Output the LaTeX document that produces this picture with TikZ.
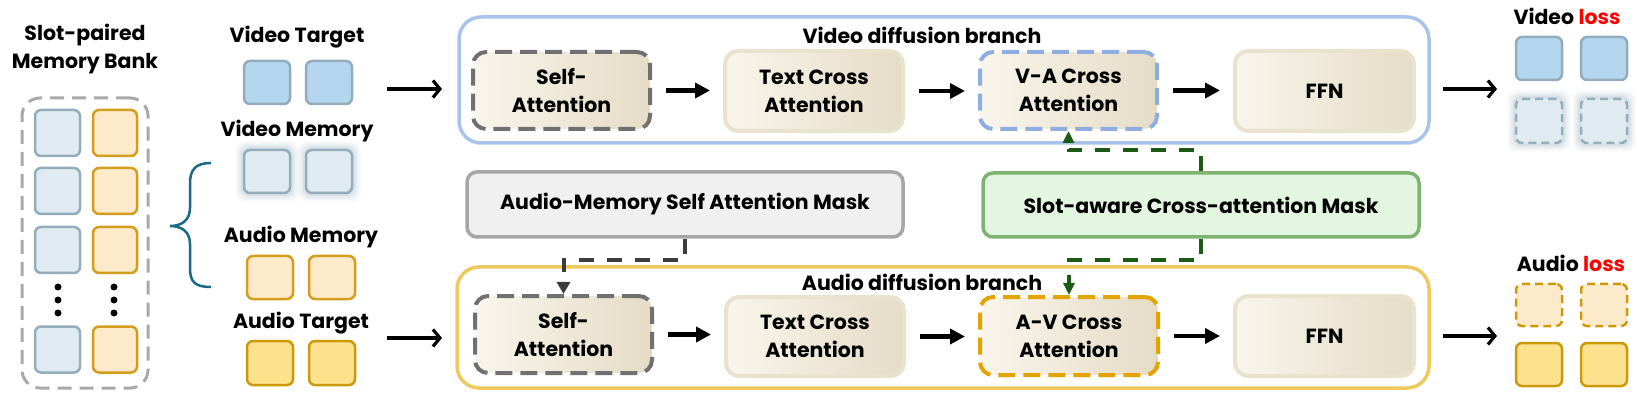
\documentclass[tikz,border=0pt]{standalone}
\usepackage{fontspec}
\setmainfont{Poppins}
\usetikzlibrary{arrows.meta,backgrounds}
\definecolor{vtF}{HTML}{B5D6EF}
\definecolor{vtB}{HTML}{93ACBC}
\definecolor{vmF}{HTML}{DFEBF0}
\definecolor{vmB}{HTML}{93ADBD}
\definecolor{amF}{HTML}{FDEACB}
\definecolor{amB}{HTML}{D49E1C}
\definecolor{atF}{HTML}{FDE28E}
\definecolor{atB}{HTML}{CC9A08}
\definecolor{vbB}{HTML}{A9C4EA}
\definecolor{abB}{HTML}{EEC95E}
\definecolor{vaB}{HTML}{8EADE0}
\definecolor{avB}{HTML}{E3A300}
\definecolor{saB}{HTML}{707070}
\definecolor{bankB}{HTML}{A9A9A9}
\definecolor{gmF}{HTML}{F0F0F0}
\definecolor{gmB}{HTML}{A6A6A6}
\definecolor{smF}{HTML}{E3F6DF}
\definecolor{smB}{HTML}{7DB36F}
\definecolor{grnA}{HTML}{1C5B14}
\definecolor{gryA}{HTML}{3C3C3C}
\definecolor{braceC}{HTML}{1A6A85}
\definecolor{gL}{HTML}{F9F5EC}
\definecolor{gR}{HTML}{E5DCC6}
\definecolor{tcB}{HTML}{E9E2CF}
\definecolor{lossred}{HTML}{FF0000}
\definecolor{glowC}{HTML}{8FA8B8}
\newcommand{\myGlow}[1]{%
  \foreach \g/\o in {2/0.16,4/0.12,6/0.08,8/0.05}{%
    \fill[glowC, opacity=\o, rounded corners=9pt] ([shift={(-\g,\g)}]#1.south west) rectangle ([shift={(\g,-\g)}]#1.north east);}}
\begin{document}
\begin{tikzpicture}[x=1pt,y=-1pt, font=\fontsize{20.5}{28}\selectfont\bfseries,
  lbl/.style={inner sep=0pt, align=center},
  sq/.style={rounded corners=6pt, minimum width=46pt, minimum height=44pt, line width=2.5pt, inner sep=0pt},
  vtsq/.style={sq, draw=vtB, fill=vtF},
  vmsq/.style={sq, draw=vmB, fill=vmF},
  amsq/.style={sq, draw=amB, fill=amF},
  atsq/.style={sq, draw=atB, fill=atF},
  vlsq/.style={sq, draw=vmB, fill=vmF, dash pattern=on 8pt off 5pt},
  alsq/.style={sq, draw=atB, fill=amF, dash pattern=on 8pt off 5pt},
  bankbox/.style={rounded corners=18pt, draw=bankB, line width=3pt, dash pattern=on 14pt off 8pt, inner sep=0pt},
  branch/.style={rounded corners=22pt, line width=3.5pt, inner sep=0pt},
  blk/.style={rounded corners=13pt, inner sep=0pt, align=center, left color=gL, right color=gR},
  sabox/.style={blk, draw=saB, line width=4pt, dash pattern=on 17pt off 8pt},
  tcbox/.style={blk, draw=tcB, line width=4pt},
  vabox/.style={blk, draw=vaB, line width=4pt, dash pattern=on 17pt off 8pt},
  avbox/.style={blk, draw=avB, line width=4pt, dash pattern=on 17pt off 8pt},
  maskbox/.style={rounded corners=10pt, line width=3.5pt, inner sep=0pt},
  flowarrow/.style={line width=4.5pt, -{Triangle[length=15pt,width=15pt]}, shorten <=14pt, shorten >=13pt},
  ioarrow/.style={line width=3.2pt, -{Straight Barb[length=7pt,width=17pt]}},
  grayarrow/.style={gryA, line width=4pt, dash pattern=on 15pt off 13pt, -{Triangle[length=12pt,width=13pt]}},
  greenarrow/.style={grnA, line width=4pt, dash pattern=on 15pt off 13pt, -{Triangle[length=12pt,width=11pt]}},
  dot/.style={circle, fill=black, inner sep=0pt, minimum size=7pt}
]
\useasboundingbox (0,0) rectangle (1650,406);

% ---- memory bank ----
\node[lbl] (bankT) at (85,49) {Slot-paired\\Memory Bank};
\node[bankbox, minimum width=126pt, minimum height=290pt] (bank) at (85,243) {};
\node[vmsq, minimum width=45pt, minimum height=46pt] (b1l) at (57.5,133) {};
\node[amsq, minimum width=44pt, minimum height=46pt] (b1r) at (115,133) {};
\node[vmsq, minimum width=45pt, minimum height=46pt] (b2l) at (57.5,191) {};
\node[amsq, minimum width=44pt, minimum height=46pt] (b2r) at (115,191) {};
\node[vmsq, minimum width=45pt, minimum height=46pt] (b3l) at (57.5,250) {};
\node[amsq, minimum width=44pt, minimum height=46pt] (b3r) at (115,250) {};
\node[vmsq, minimum width=45pt, minimum height=46pt] (b4l) at (57.5,349.5) {};
\node[amsq, minimum width=44pt, minimum height=46pt] (b4r) at (115,349.5) {};
\foreach \yy [count=\i] in {287,300,313}{
  \node[dot] (dl\i) at (58,\yy) {};
  \node[dot] (dr\i) at (114,\yy) {};
}

% ---- brace ----
\draw[braceC, line width=2.5pt] (211,163) .. controls (195,163) and (190,170) .. (190,184) -- (190,208)
  .. controls (190,220) and (182,226) .. (170,226) .. controls (182,226) and (190,232) .. (190,244)
  -- (190,268) .. controls (190,282) and (195,287) .. (211,287);

% ---- inputs ----
\node[lbl] (vtL) at (297,37) {Video Target};
\node[vtsq, minimum height=43pt] (vt1) at (267,82.5) {};
\node[vtsq, minimum height=43pt] (vt2) at (329,82.5) {};
\node[lbl] (vmL) at (297,131) {Video Memory};
\node[vmsq, minimum height=43pt] (vm1) at (267,171.5) {};
\node[vmsq, minimum height=43pt] (vm2) at (329,171.5) {};
\node[lbl] (amL) at (301,237) {Audio Memory};
\node[amsq, minimum height=43pt] (am1) at (270,277.5) {};
\node[amsq, minimum height=43pt] (am2) at (332,277.5) {};
\node[lbl] (atL) at (301,323) {Audio Target};
\node[atsq, minimum height=44pt] (at1) at (270,363) {};
\node[atsq, minimum height=44pt] (at2) at (332,363) {};

% ---- branches ----
\node[branch, draw=vbB, minimum width=970pt, minimum height=126pt] (vb) at (944,80) {};
\node[branch, draw=abB, minimum width=972pt, minimum height=121pt] (ab) at (943,327.5) {};
\node[lbl] (vbt) at (922,35) {Video diffusion branch};
\node[lbl] (abt) at (922,282) {Audio diffusion branch};

\node[sabox, minimum width=177pt, minimum height=77pt] (sav) at (561.5,90.5) {Self-\\Attention};
\node[tcbox, minimum width=178pt, minimum height=80pt] (tcv) at (814,91) {Text Cross\\Attention};
\node[vabox, minimum width=177pt, minimum height=77pt] (vav) at (1068.5,90.5) {V-A Cross\\Attention};
\node[tcbox, minimum width=179pt, minimum height=80pt] (ffnv) at (1324.5,91) {FFN};

\node[sabox, minimum width=177pt, minimum height=77pt] (saa) at (563.5,334.5) {Self-\\Attention};
\node[tcbox, minimum width=178pt, minimum height=79pt] (tca) at (815,336.5) {Text Cross\\Attention};
\node[avbox, minimum width=178pt, minimum height=78pt] (ava) at (1069,336) {A-V Cross\\Attention};
\node[tcbox, minimum width=179pt, minimum height=80pt] (ffna) at (1324.5,336) {FFN};

\draw[flowarrow] (sav.east) -- (sav.east -| tcv.west);
\draw[flowarrow] (tcv.east) -- (tcv.east -| vav.west);
\draw[flowarrow] (vav.east) -- (vav.east -| ffnv.west);
\draw[flowarrow] (saa.east) -- (saa.east -| tca.west);
\draw[flowarrow] (tca.east) -- (tca.east -| ava.west);
\draw[flowarrow] (ava.east) -- (ava.east -| ffna.west);

% ---- masks ----
\node[maskbox, draw=gmB, fill=gmF, minimum width=436pt, minimum height=65pt] (amask) at (685,204.5) {Audio-Memory Self Attention Mask};
\node[maskbox, draw=smB, fill=smF, minimum width=436pt, minimum height=64pt] (smask) at (1201,205) {Slot-aware Cross-attention Mask};
\draw[grayarrow] (amask.south) -- ++(0,21) -| (saa.north);
\draw[greenarrow] (smask.north) -- ++(0,-21) -| (vav.south);
\draw[greenarrow] (smask.south) -- ++(0,21) -| (ava.north);

% ---- io arrows ----
\coordinate (vinA) at (387,89);
\coordinate (vinB) at (442,89);
\coordinate (ainA) at (387,338);
\coordinate (ainB) at (442,338);
\coordinate (voutA) at (1443,89);
\coordinate (voutB) at (1497,89);
\coordinate (aoutA) at (1443,336);
\coordinate (aoutB) at (1497,336);
\draw[ioarrow] (vinA) -- (vinB);
\draw[ioarrow] (ainA) -- (ainB);
\draw[ioarrow] (voutA) -- (voutB);
\draw[ioarrow] (aoutA) -- (aoutB);

% ---- outputs ----
\node[lbl] (vlL) at (1567,16) {Video {\color{lossred}loss}};
\node[vtsq, minimum height=43pt] (vl1) at (1539,58.5) {};
\node[vtsq, minimum height=43pt] (vl2) at (1604,58.5) {};
\node[vlsq] (vl3) at (1539,121) {};
\node[vlsq] (vl4) at (1604,121) {};
\node[lbl] (alL) at (1571,263) {Audio {\color{lossred}loss}};
\node[alsq, minimum height=42pt] (al1) at (1539,305) {};
\node[alsq, minimum height=42pt] (al2) at (1604,305) {};
\node[atsq, minimum height=43pt] (al3) at (1539,364.5) {};
\node[atsq, minimum height=43pt] (al4) at (1604,364.5) {};

\begin{pgfonlayer}{background}
\myGlow{vm1}\myGlow{vm2}\myGlow{vl3}\myGlow{vl4}
\end{pgfonlayer}
\end{tikzpicture}
\end{document}
